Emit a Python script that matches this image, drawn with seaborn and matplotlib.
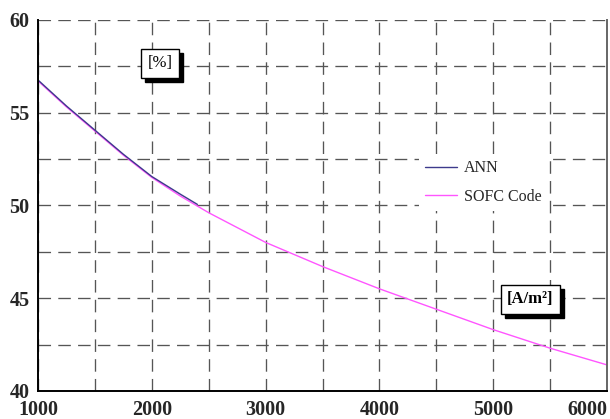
import numpy as np
import pandas as pd
import matplotlib
matplotlib.use("Agg")
import matplotlib.pyplot as plt
import seaborn as sns

# Data
sofc_x = [1000, 1250, 1500, 1750, 2000, 2250, 2500, 2750, 3000, 3500, 4000, 4500, 5000, 5500, 6000]
sofc_y = [56.7, 55.3, 54.0, 52.7, 51.5, 50.5, 49.6, 48.8, 48.0, 46.7, 45.5, 44.4, 43.3, 42.3, 41.4]
ann_x = [1000, 1250, 1500, 1750, 2000, 2250, 2400]
ann_y = [56.75, 55.35, 54.05, 52.75, 51.55, 50.6, 50.05]
x_ticks = [1000, 2000, 3000, 4000, 5000, 6000]
y_ticks = [40, 45, 50, 55, 60]
series_names = ["ANN", "SOFC Code"]

df = pd.concat([
    pd.DataFrame({"x": ann_x, "y": ann_y, "series": series_names[0]}),
    pd.DataFrame({"x": sofc_x, "y": sofc_y, "series": series_names[1]}),
])

sns.set_style("white")
plt.rcParams["font.family"] = ["Liberation Serif", "DejaVu Serif"]

fig = plt.figure(figsize=(6.1, 4.19), dpi=100)
ax = fig.add_axes([0.0623, 0.067, 0.933, 0.886])

palette = {"ANN": "#3d3a8c", "SOFC Code": "#ff55ff"}
sns.lineplot(data=df, x="x", y="y", hue="series", palette=palette, ax=ax,
             linewidth=1.0, estimator=None, sort=False, hue_order=series_names[::-1])

ax.set_xlim(1000, 6000)
ax.set_ylim(40, 60)
ax.set_xticks(x_ticks)
ax.set_yticks(y_ticks)
ax.set_xticks(np.arange(1500, 6000, 1000), minor=True)
ax.set_yticks(np.arange(42.5, 60, 5), minor=True)
ax.set_xlabel("")
ax.set_ylabel("")

grid_kw = dict(color="#555555", linestyle=(0, (9.5, 5.5)), linewidth=0.95)
ax.grid(True, which="both", **grid_kw)
ax.set_axisbelow(True)

for lbl in ax.get_xticklabels() + ax.get_yticklabels():
    lbl.set_fontweight("bold")
    lbl.set_fontsize(14.5)
xl = ax.get_xticklabels()
xl[-1].set_horizontalalignment("right")
ax.tick_params(axis="both", which="major", direction="out", length=5, width=1.2, color="black", pad=1)
ax.tick_params(axis="both", which="minor", length=0)
ax.tick_params(axis="x", pad=1.5)

ax.spines["top"].set_visible(False)
ax.spines["left"].set_color("black")
ax.spines["left"].set_linewidth(1.4)
ax.spines["bottom"].set_color("black")
ax.spines["bottom"].set_linewidth(1.4)
ax.spines["right"].set_color("#666666")
ax.spines["right"].set_linewidth(1.4)

handles, labels = ax.get_legend_handles_labels()
order = [labels.index(n) for n in series_names]
leg = ax.legend([handles[i] for i in order], [labels[i] for i in order],
                loc="upper left", bbox_to_anchor=(0.655, 0.66), frameon=True,
                fancybox=False, facecolor="white", edgecolor="none", framealpha=1.0,
                fontsize=11.5, handlelength=2.0, labelspacing=0.8, handletextpad=0.45)
for l in leg.get_lines():
    l.set_linewidth(1.0)

def boxed(x, y, s, weight):
    ax.annotate(s, xy=(x, y), xycoords="axes fraction", xytext=(3, -3), textcoords="offset points",
                ha="center", va="center", fontsize=12, fontweight=weight, color="black",
                bbox=dict(boxstyle="square,pad=0.38", fc="black", ec="black", lw=1), zorder=5)
    ax.annotate(s, xy=(x, y), xycoords="axes fraction",
                ha="center", va="center", fontsize=12, fontweight=weight, color="black",
                bbox=dict(boxstyle="square,pad=0.38", fc="white", ec="black", lw=1), zorder=6)

boxed(0.214, 0.882, "[%]", "normal")
boxed(0.865, 0.247, "[A/m²]", "bold")

fig.savefig("out.png", dpi=100)
